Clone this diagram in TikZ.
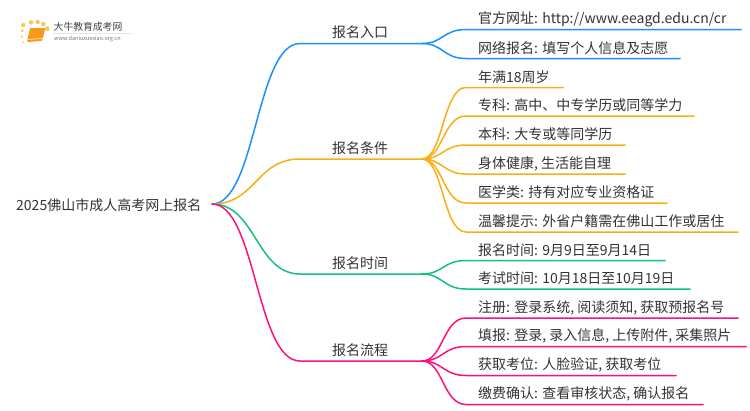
\documentclass[tikz,border=0pt]{standalone}
\usepackage{fontspec}
\setmainfont{Noto Sans CJK SC}
\definecolor{cblue}{HTML}{1890FF}
\definecolor{corange}{HTML}{FAAD14}
\definecolor{cgreen}{HTML}{13C27A}
\definecolor{cpink}{HTML}{FF0F7B}
\definecolor{ctext}{HTML}{333333}
\definecolor{cbook}{HTML}{F59A1B}
\definecolor{cdot}{HTML}{FBC75A}
\tikzset{
 lbl/.style={inner sep=0pt,text=ctext,font=\fontsize{14}{14}\selectfont},
 leaflbl/.style={lbl,anchor=west},
 toplbl/.style={lbl,anchor=center},
 conn/.style={line width=1.5pt,line cap=round},
 dotm/.style={circle,fill=cdot,inner sep=0pt},
}
\begin{document}
\begin{tikzpicture}[x=1pt,y=-1pt]
\useasboundingbox (0,0) rectangle (750,410);
% logo
\foreach \n/\px/\py/\r in {a/23.3/25/2.2,b/31/22.3/2.2,c/37.7/22/2.2,d/43.3/24/2.2,e/47.3/28.7/2.4,f/22.3/30.7/1.5,g/22/36.7/1.2,h/23.3/42.3/1}
  \node[dotm,minimum size=\r*2pt] (dot\n) at (\px,\py) {};
\fill[cbook,rounded corners=1pt] (30,28) -- (45.5,28) -- (42,41) -- (27,42) -- cycle;
\draw[white!85!cbook,line width=0.6pt] (28.5,39.5) -- (42,38.5);
\node[inner sep=0pt,anchor=west,text=black!75,font=\fontsize{9.8}{10}\selectfont] (logotitle) at (53.5,27) {大牛教育成考网};
\draw[black!10,line width=0.5pt] (53,33.5) -- (133,33.5);
\node[inner sep=0pt,anchor=west,text=black!55,font=\fontsize{5.5}{6}\selectfont] (logourl) at (54,39) {www.daniuxuexiao.org.cn};
% root
\node[lbl,anchor=west] (root) at (16,205) {2025佛山市成人高考网上报名};
\coordinate (r) at (212,204);
% level 1
\node[toplbl] (n1) at (360,32.5) {报名入口};
\node[toplbl] (n2) at (360,148) {报名条件};
\node[toplbl] (n3) at (360,263) {报名时间};
\node[toplbl] (n4) at (360,350) {报名流程};
\foreach \n/\yy in {1/43.5,2/159,3/274,4/361}{
 \coordinate (s\n) at (300,\yy);
 \coordinate (e\n) at (422,\yy);
}
\foreach \n/\c in {1/cblue,2/corange,3/cgreen,4/cpink}{
 \draw[conn,\c] (r) .. controls (256,204) and (256,0|-s\n) .. (s\n) -- (e\n);
}
% leaves
\foreach \n/\p/\c/\yy/\xe/\t in {
 a/1/cblue/29.5/741/{官方网址: http://www.eeagd.edu.cn/cr},
 b/1/cblue/58.5/680/{网络报名: 填写个人信息及志愿},
 c/2/corange/87.5/563/{年满18周岁},
 d/2/corange/116/694/{专科: 高中、中专学历或同等学力},
 e/2/corange/145/625/{本科: 大专或等同学历},
 f/2/corange/174/625/{身体健康, 生活能自理},
 g/2/corange/203/667/{医学类: 持有对应专业资格证},
 h/2/corange/232/738/{温馨提示: 外省户籍需在佛山工作或居住},
 i/3/cgreen/260.5/665/{报名时间: 9月9日至9月14日},
 j/3/cgreen/289/690/{考试时间: 10月18日至10月19日},
 k/4/cpink/318/738/{注册: 登录系统, 阅读须知, 获取预报名号},
 l/4/cpink/346.5/746/{填报: 登录, 录入信息, 上传附件, 采集照片},
 m/4/cpink/375.5/676/{获取考位: 人脸验证, 获取考位},
 n/4/cpink/404.5/703/{缴费确认: 查看审核状态, 确认报名}}{
 \node[leaflbl] (t\n) at (478,\yy-10.5) {\t};
 \coordinate (ls\n) at (466,\yy);
 \coordinate (le\n) at (\xe,\yy);
 \draw[conn,\c] (e\p) .. controls (443,0|-e\p) and (443,\yy) .. (ls\n) -- (le\n);
}
\end{tikzpicture}
\end{document}
